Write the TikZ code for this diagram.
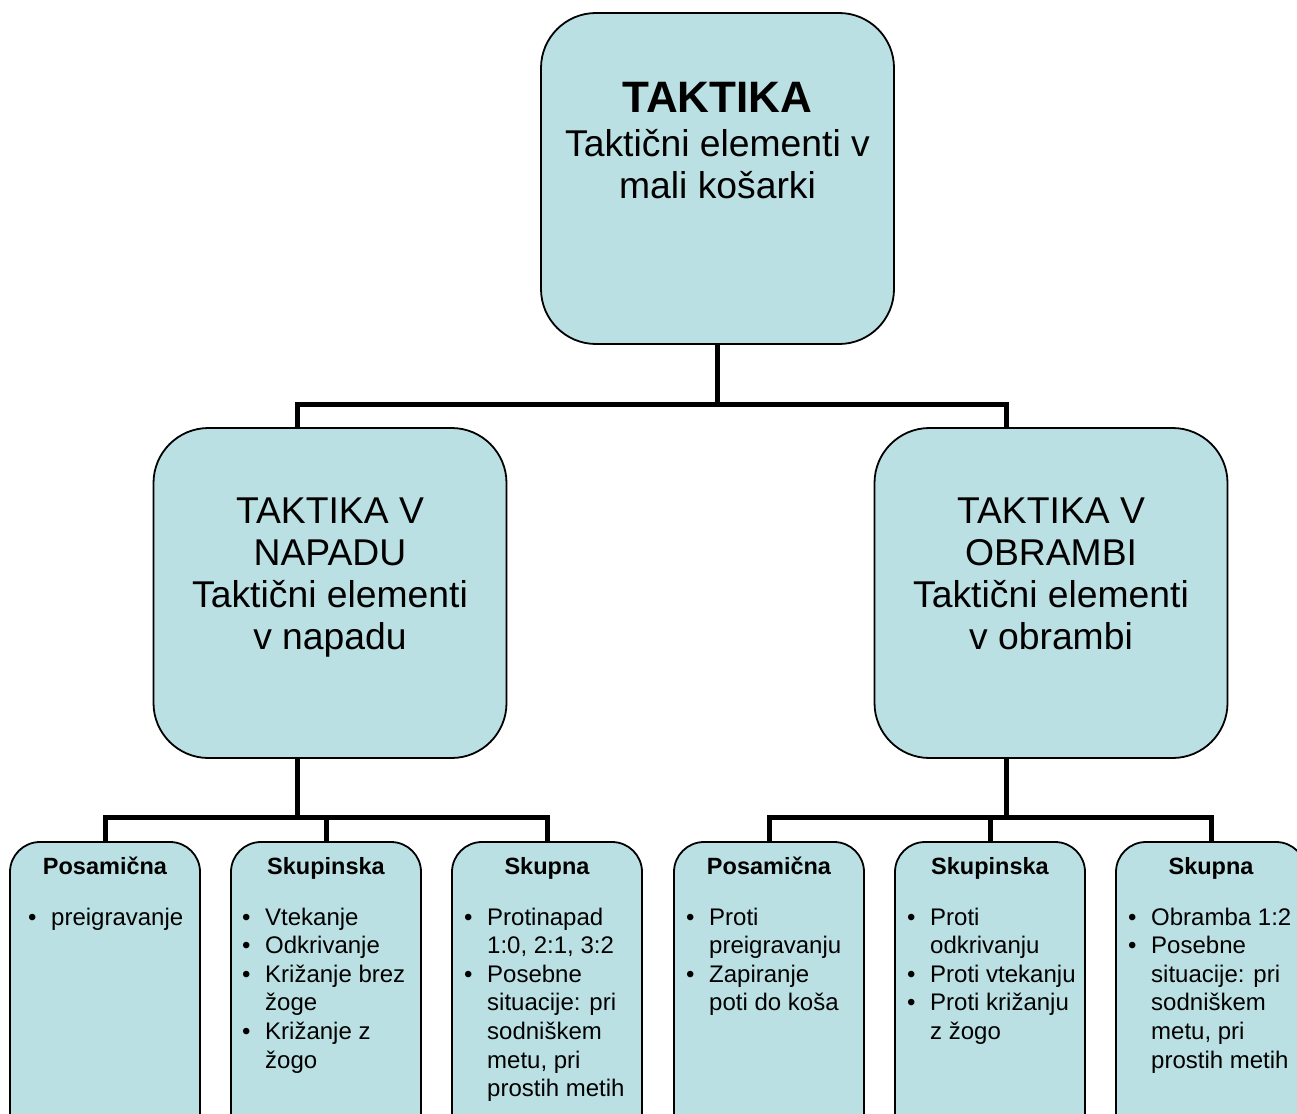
\documentclass[tikz,border=0pt]{standalone}
\usepackage{fontspec}
\setmainfont{Liberation Sans}
\definecolor{boxfill}{RGB}{187,224,227}
\newcommand{\itm}[1]{\par\noindent\hangindent=23pt\hangafter=1\makebox[23pt][l]{\textbullet}#1}
\tikzset{
  bigbox/.style={draw=black, line width=1.8pt, fill=boxfill, rounded corners=55pt,
    minimum width=353pt, minimum height=331pt, inner sep=0pt},
  smallbox/.style={draw=black, line width=1.8pt, fill=boxfill, rounded corners=30pt,
    minimum width=190pt, minimum height=320pt, inner sep=0pt},
  conn/.style={draw=black, line width=5pt},
  txt/.style={inner sep=0pt, anchor=base},
  listtxt/.style={inner sep=0pt, anchor=base west, font=\fontsize{24}{28.6}\selectfont},
  ttl/.style={inner sep=0pt, anchor=base, font=\fontsize{23.5}{28}\selectfont\bfseries},
  midtxt/.style={inner sep=0pt, anchor=base, font=\fontsize{37.3}{42}\selectfont}
}
\begin{document}
\begin{tikzpicture}[x=1pt,y=-1pt]
\path[use as bounding box] (0,0) rectangle (1297,1113);
\clip (0,0) rectangle (1297,1113);

% boxes
\node[bigbox] (top) at (717.5,178.5) {};
\node[bigbox, minimum height=330pt] (lm) at (330,593) {};
\node[bigbox, minimum height=330pt] (rm) at (1051,593) {};

\node[smallbox] (b1) at (105,1002) {};
\node[smallbox] (b2) at (326,1002) {};
\node[smallbox] (b3) at (547,1002) {};
\node[smallbox] (b4) at (769,1002) {};
\node[smallbox] (b5) at (990,1002) {};
\node[smallbox] (b6) at (1211,1002) {};

% connectors
\coordinate (jt) at (717.5,404);
\coordinate (jl) at (297,817);
\coordinate (jr) at (1006,817);
\draw[conn] (top.south) -- (jt);
\draw[conn] (lm.north -| jl) -- (jl |- jt) -- (jr |- jt) -- (rm.north -| jr);
\draw[conn] (lm.south -| jl) -- (jl);
\draw[conn] (rm.south -| jr) -- (jr);
\draw[conn] (b1.north) -- (b1.north |- jl) -- (b3.north |- jl) -- (b3.north);
\draw[conn] (b2.north) -- (b2.north |- jl);
\draw[conn] (b4.north) -- (b4.north |- jr) -- (b6.north |- jr) -- (b6.north);
\draw[conn] (b5.north) -- (b5.north |- jr);

% top text
\node[txt, font=\fontsize{44}{50}\selectfont\bfseries] (t1) at (717.5,113) {TAKTIKA};
\node[midtxt] (t2) at (717.5,156) {\parbox[t]{345pt}{\centering Taktični elementi v\\mali košarki}};

% mid texts
\node[midtxt] (l1) at (330,523) {\parbox[t]{345pt}{\centering TAKTIKA V\\NAPADU\\Taktični elementi\\v napadu}};
\node[midtxt] (r1) at (1051,523) {\parbox[t]{345pt}{\centering TAKTIKA V\\OBRAMBI\\Taktični elementi\\v obrambi}};

% titles
\node[ttl] (h1) at (105,874) {Posamična};
\node[ttl] (h2) at (326,874) {Skupinska};
\node[ttl] (h3) at (547,874) {Skupna};
\node[ttl] (h4) at (769,874) {Posamična};
\node[ttl] (h5) at (990,874) {Skupinska};
\node[ttl] (h6) at (1211,874) {Skupna};

% lists
\node[listtxt] (L1) at (28,925) {\parbox[t]{175pt}{\itm{preigravanje}}};
\node[listtxt] (L2) at (242,925) {\parbox[t]{175pt}{\itm{Vtekanje}\itm{Odkrivanje}\itm{Križanje brez\\žoge}\itm{Križanje z\\žogo}}};
\node[listtxt] (L3) at (464,925) {\parbox[t]{175pt}{\itm{Protinapad\\1:0, 2:1, 3:2}\itm{Posebne\\situacije: pri\\sodniškem\\metu, pri\\prostih metih}}};
\node[listtxt] (L4) at (686,925) {\parbox[t]{175pt}{\itm{Proti\\preigravanju}\itm{Zapiranje\\poti do koša}}};
\node[listtxt] (L5) at (907,925) {\parbox[t]{175pt}{\itm{Proti\\odkrivanju}\itm{Proti vtekanju}\itm{Proti križanju\\z žogo}}};
\node[listtxt] (L6) at (1128,925) {\parbox[t]{175pt}{\itm{Obramba 1:2}\itm{Posebne\\situacije: pri\\sodniškem\\metu, pri\\prostih metih}}};
\end{tikzpicture}
\end{document}
